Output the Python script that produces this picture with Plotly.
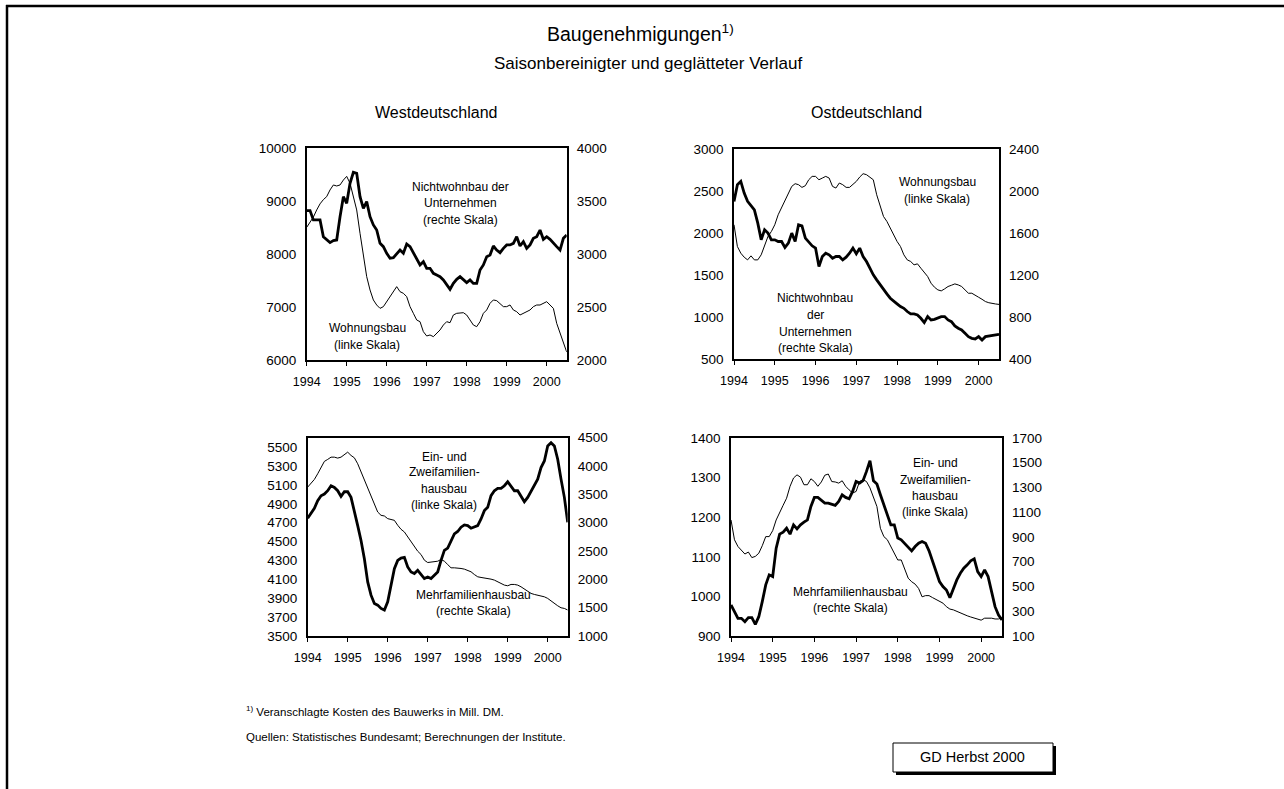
import plotly.graph_objects as go

W, H = 1284, 789

years = [1994, 1995, 1996, 1997, 1998, 1999, 2000]
n_months = 79

west_wohnungsbau = [
    8507, 8600, 8700, 8835, 8950, 9030, 9087, 9213, 9307, 9288, 9307, 9400, 9470,
    9339, 9087, 8835, 8394, 8016, 7575, 7323, 7134, 7039, 6976, 7008, 7102, 7197,
    7291, 7386, 7291, 7260, 7197, 7008, 6882, 6756, 6724, 6535, 6454, 6473, 6441,
    6504, 6567, 6661, 6724, 6705, 6850, 6882, 6882, 6894, 6850, 6756, 6661, 6630,
    6724, 6882, 6945, 7071, 7134, 7121, 7071, 7008, 7008, 7040, 6945, 6913, 6850,
    6882, 6913, 6945, 7008, 7039, 7039, 7071, 7102, 7039, 6976, 6693, 6504, 6315,
    6150]
west_nichtwohnbau = [
    3411, 3411, 3323, 3323, 3323, 3165, 3134, 3109, 3128, 3134, 3354, 3543, 3480,
    3669, 3773, 3764, 3543, 3433, 3496, 3354, 3276, 3228, 3102, 3071, 3008, 2961,
    2967, 3008, 3039, 3008, 3096, 3071, 3008, 2945, 2898, 2929, 2866, 2866, 2819,
    2803, 2787, 2756, 2709, 2668, 2724, 2762, 2787, 2756, 2731, 2756, 2724, 2724,
    2850, 2898, 2976, 2992, 3077, 3039, 3014, 3055, 3087, 3087, 3102, 3165, 3077,
    3118, 3055, 3087, 3150, 3165, 3228, 3140, 3165, 3140, 3102, 3071, 3039, 3150,
    3181]

ost_wohnungsbau = [
    2098, 1839, 1760, 1712, 1680, 1728, 1680, 1680, 1740, 1859, 1959, 2018, 2098,
    2217, 2297, 2376, 2475, 2555, 2587, 2575, 2543, 2563, 2634, 2674, 2674, 2634,
    2654, 2674, 2654, 2555, 2535, 2595, 2575, 2543, 2543, 2575, 2614, 2666, 2706,
    2694, 2666, 2634, 2455, 2336, 2197, 2138, 2058, 1979, 1899, 1839, 1740, 1680,
    1661, 1621, 1633, 1581, 1529, 1482, 1402, 1355, 1323, 1311, 1335, 1363, 1378,
    1394, 1382, 1363, 1323, 1283, 1283, 1263, 1235, 1211, 1184, 1170, 1160, 1155,
    1150]
ost_nichtwohnbau = [
    1901, 2060, 2092, 1980, 1901, 1859, 1821, 1694, 1535, 1631, 1599, 1535, 1535,
    1519, 1519, 1462, 1503, 1599, 1519, 1678, 1669, 1551, 1510, 1478, 1456, 1281,
    1376, 1408, 1392, 1360, 1376, 1376, 1344, 1370, 1408, 1456, 1402, 1456, 1376,
    1328, 1265, 1201, 1154, 1106, 1058, 1020, 979, 947, 925, 899, 883, 852,
    829, 829, 820, 788, 747, 804, 772, 778, 788, 804, 804, 772, 756,
    715, 693, 677, 645, 613, 597, 591, 613, 581, 613, 619, 619, 629,
    635]

west_einzwei = [
    5077, 5123, 5158, 5218, 5289, 5349, 5370, 5394, 5394, 5384, 5394, 5419, 5447,
    5412, 5387, 5324, 5236, 5148, 5060, 4972, 4884, 4813, 4778, 4771, 4743, 4736,
    4725, 4673, 4630, 4602, 4549, 4496, 4444, 4398, 4363, 4303, 4278, 4285, 4285,
    4292, 4310, 4292, 4257, 4222, 4222, 4222, 4215, 4208, 4197, 4180, 4151, 4127,
    4120, 4116, 4109, 4102, 4092, 4074, 4056, 4039, 4032, 4046, 4046, 4039, 4021,
    3996, 3968, 3951, 3940, 3933, 3926, 3915, 3898, 3870, 3845, 3820, 3799, 3792,
    3775]
west_mehrfam = [
    3078, 3172, 3254, 3388, 3476, 3505, 3564, 3652, 3622, 3564, 3464, 3546, 3546,
    3447, 3213, 2949, 2686, 2364, 1955, 1721, 1574, 1545, 1487, 1457, 1604, 1896,
    2189, 2335, 2376, 2388, 2218, 2130, 2101, 2159, 2083, 2013, 2042, 2013, 2072,
    2130, 2335, 2511, 2552, 2686, 2803, 2844, 2920, 2961, 2949, 2903, 2920, 2949,
    3066, 3213, 3271, 3476, 3564, 3605, 3605, 3652, 3722, 3652, 3564, 3564, 3476,
    3371, 3447, 3564, 3652, 3769, 3973, 4090, 4354, 4412, 4354, 4120, 3769, 3447,
    3008]

ost_einzwei = [
    1193, 1143, 1126, 1115, 1107, 1112, 1098, 1101, 1109, 1128, 1151, 1151, 1166,
    1193, 1213, 1230, 1248, 1278, 1299, 1307, 1301, 1282, 1282, 1297, 1290, 1278,
    1289, 1306, 1309, 1290, 1289, 1286, 1292, 1278, 1269, 1261, 1265, 1290, 1295,
    1290, 1274, 1252, 1227, 1172, 1151, 1143, 1126, 1109, 1092, 1092, 1071, 1046,
    1037, 1031, 1020, 999, 1002, 1002, 997, 993, 989, 983, 974, 968, 966,
    962, 960, 955, 951, 948, 945, 942, 940, 945, 945, 945, 943, 943,
    946]
ost_mehrfam = [
    351, 297, 243, 243, 216, 248, 248, 194, 256, 378, 513, 594, 580,
    810, 923, 939, 971, 923, 998, 966, 998, 1020, 1039, 1147, 1220, 1220,
    1193, 1174, 1174, 1166, 1155, 1187, 1241, 1220, 1209, 1268, 1349, 1336, 1355,
    1430, 1517, 1355, 1328, 1241, 1160, 1080, 998, 998, 891, 877, 850, 823,
    788, 823, 850, 864, 850, 788, 702, 621, 540, 499, 472, 410, 486,
    553, 607, 648, 675, 707, 723, 621, 580, 634, 580, 459, 337, 270,
    229]

months = [1994 + i / 12 for i in range(n_months)]

FONT = "Liberation Sans, Arial, sans-serif"


def px(x):
    return x / W


def py(y):
    return 1 - y / H


fig = go.Figure()

panels = [
    dict(box=(306.7, 566.7, 148.3, 360.0), lr=[6000, 10000], lt=list(range(6000, 10001, 1000)),
         rr=[2000, 4000], rt=list(range(2000, 4001, 500)),
         thin=west_wohnungsbau, thick=west_nichtwohnbau),
    dict(box=(734.0, 999.0, 149.0, 359.0), lr=[500, 3000], lt=list(range(500, 3001, 500)),
         rr=[400, 2400], rt=list(range(400, 2401, 400)),
         thin=ost_wohnungsbau, thick=ost_nichtwohnbau),
    dict(box=(307.7, 567.7, 437.7, 636.0), lr=[3500, 5600], lt=list(range(3500, 5501, 200)),
         rr=[1000, 4500], rt=list(range(1000, 4501, 500)),
         thin=west_einzwei, thick=west_mehrfam),
    dict(box=(731.0, 1002.0, 438.0, 636.0), lr=[900, 1400], lt=list(range(900, 1401, 100)),
         rr=[100, 1700], rt=list(range(100, 1701, 200)),
         thin=ost_einzwei, thick=ost_mehrfam),
]

layout = {}
for i, p in enumerate(panels):
    k = i + 1
    xa = "x" if k == 1 else f"x{k}"
    yl = 2 * i + 1
    yr = 2 * i + 2
    yla = "y" if yl == 1 else f"y{yl}"
    x0, x1, y0, y1 = p["box"]
    layout["xaxis" if k == 1 else f"xaxis{k}"] = dict(
        domain=[px(x0), px(x1)], anchor=yla, range=[1994, 2000.5],
        tickvals=years, ticktext=[str(v) for v in years],
        ticks="outside", ticklen=4, tickcolor="black", tickwidth=1,
        showline=True, linecolor="black", linewidth=1.5, mirror=True,
        showgrid=False, zeroline=False, fixedrange=True, automargin=False,
        ticklabelstandoff=5,
        tickfont=dict(family=FONT, size=12.5, color="black"))
    layout["yaxis" if yl == 1 else f"yaxis{yl}"] = dict(
        domain=[py(y1), py(y0)], anchor=xa, range=p["lr"], tickvals=p["lt"],
        ticktext=[str(v) for v in p["lt"]],
        ticks="", showline=True, linecolor="black", linewidth=1.5, mirror=True,
        showgrid=False, zeroline=False, ticklabelstandoff=6, fixedrange=True,
        automargin=False,
        tickfont=dict(family=FONT, size=13.5, color="black"))
    layout[f"yaxis{yr}"] = dict(
        overlaying=yla, side="right", anchor=xa, range=p["rr"], tickvals=p["rt"],
        ticktext=[str(v) for v in p["rt"]],
        ticks="", showline=False, showgrid=False, zeroline=False, ticklabelstandoff=9,
        fixedrange=True, automargin=False,
        tickfont=dict(family=FONT, size=13.5, color="black"))
    fig.add_trace(go.Scatter(x=months, y=p["thin"], mode="lines", xaxis=xa, yaxis=yla,
                             line=dict(color="black", width=1), showlegend=False,
                             hoverinfo="skip"))
    fig.add_trace(go.Scatter(x=months, y=p["thick"], mode="lines", xaxis=xa, yaxis=f"y{yr}",
                             line=dict(color="black", width=2.8), showlegend=False,
                             hoverinfo="skip"))

annotations = []


def text(x, y, s, size=12, anchor="center"):
    annotations.append(dict(x=px(x), y=py(y), xref="paper", yref="paper", text=s,
                            showarrow=False, xanchor=anchor, yanchor="middle",
                            font=dict(family=FONT, size=size, color="black")))


text(640, 33, "Baugenehmigungen<sup>1)</sup>", size=19.5)
text(648, 63, "Saisonbereinigter und geglätteter Verlauf", size=17)
text(436, 113, "Westdeutschland", size=16)
text(866, 113, "Ostdeutschland", size=16)

for s, yy in [("Nichtwohnbau der", 187), ("Unternehmen", 203), ("(rechte Skala)", 220)]:
    text(460, yy, s)
for s, yy in [("Wohnungsbau", 328), ("(linke Skala)", 345)]:
    text(367, yy, s)
for s, yy in [("Wohnungsbau", 182), ("(linke Skala)", 199)]:
    text(937, yy, s)
for s, yy in [("Nichtwohnbau", 298), ("der", 315), ("Unternehmen", 332), ("(rechte Skala)", 348)]:
    text(815, yy, s)
for s, yy in [("Ein- und", 457), ("Zweifamilien-", 472), ("hausbau", 489), ("(linke Skala)", 505)]:
    text(444, yy, s)
for s, yy in [("Mehrfamilienhausbau", 595), ("(rechte Skala)", 611)]:
    text(473, yy, s)
for s, yy in [("Ein- und", 463), ("Zweifamilien-", 480), ("hausbau", 496), ("(linke Skala)", 512)]:
    text(935, yy, s)
for s, yy in [("Mehrfamilienhausbau", 592), ("(rechte Skala)", 608)]:
    text(850, yy, s)

text(244, 711, "<sup>1)</sup> Veranschlagte Kosten des Bauwerks in Mill. DM.", size=11.5, anchor="left")
text(244, 737, "Quellen: Statistisches Bundesamt; Berechnungen der Institute.", size=11.5, anchor="left")
text(973, 757, "GD Herbst 2000", size=14.5)

shapes = [
    dict(type="line", xref="paper", yref="paper", x0=px(6), x1=1, y0=py(6), y1=py(6),
         line=dict(color="black", width=2.5)),
    dict(type="line", xref="paper", yref="paper", x0=px(7), x1=px(7), y0=py(5), y1=0,
         line=dict(color="black", width=2.5)),
    dict(type="rect", xref="paper", yref="paper", x0=px(896), x1=px(1056), y0=py(775), y1=py(746),
         fillcolor="black", line=dict(width=0)),
    dict(type="rect", xref="paper", yref="paper", x0=px(893), x1=px(1053), y0=py(772), y1=py(743),
         fillcolor="white", line=dict(color="black", width=1)),
]

fig.update_layout(
    template="none",
    width=W, height=H, margin=dict(l=0, r=0, t=0, b=0, pad=0, autoexpand=False),
    paper_bgcolor="white", plot_bgcolor="white",
    annotations=annotations, shapes=shapes, showlegend=False,
    **layout)

fig.write_html(
    "out.html",
    config={"displayModeBar": False, "responsive": False},
    post_script="document.body.style.margin='0';document.body.style.overflow='hidden';"
                "document.documentElement.style.overflow='hidden';",
)
